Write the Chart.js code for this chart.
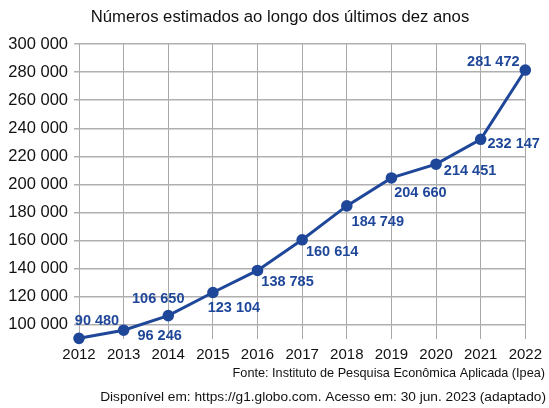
<!DOCTYPE html>
<html>
<head>
<meta charset="utf-8">
<script src="https://cdn.jsdelivr.net/npm/chart.js@4"></script>
<style>
  html, body { margin: 0; padding: 0; background: #fff; }
  #wrap { width: 549px; height: 408px; }
</style>
</head>
<body>
<div id="wrap"><canvas id="popChart"></canvas></div>
<script>
// anos e valores estimados
var anos = ["2012", "2013", "2014", "2015", "2016", "2017", "2018", "2019", "2020", "2021", "2022"];
var valores = [90480, 96246, 106650, 123104, 138785, 160614, 184749, 204660, 214451, 232147, 281472];
var yTicks = [100000, 120000, 140000, 160000, 180000, 200000, 220000, 240000, 260000, 280000, 300000];

var azul = "#1f4799";
var fonte = "'Liberation Sans', Arial, sans-serif";

function fmt(v) {
  return String(v).replace(/\B(?=(\d{3})+(?!\d))/g, " ");
}

// deslocamento dos rótulos em relação ao ponto (px)
var labelPos = [
  [18, -17], [36, 6], [-10, -17], [21, 16], [30, 12], [30, 12],
  [31, 16], [29, 15], [34, 7], [33, 5], [-32, -8]
];

var textPlugin = {
  id: "textos",
  afterDatasetsDraw: function(chart) {
    var ctx = chart.ctx;
    var meta = chart.getDatasetMeta(0);
    ctx.save();
    ctx.font = "bold 14.5px " + fonte;
    ctx.fillStyle = azul;
    ctx.textAlign = "center";
    ctx.textBaseline = "middle";
    meta.data.forEach(function(pt, i) {
      ctx.fillText(fmt(valores[i]), pt.x + labelPos[i][0], pt.y + labelPos[i][1]);
    });
    ctx.restore();
  },
  afterDraw: function(chart) {
    var ctx = chart.ctx;
    ctx.save();
    ctx.fillStyle = "#111";
    ctx.textBaseline = "middle";
    ctx.font = "16.7px " + fonte;
    ctx.textAlign = "center";
    ctx.fillText("Números estimados ao longo dos últimos dez anos", 280, 17);
    ctx.textAlign = "right";
    ctx.font = "12.7px " + fonte;
    ctx.fillText("Fonte: Instituto de Pesquisa Econômica Aplicada (Ipea)", 545, 373);
    ctx.font = "13.7px " + fonte;
    ctx.fillText("Disponível em: https://g1.globo.com. Acesso em: 30 jun. 2023 (adaptado)", 546, 397);
    ctx.restore();
  }
};

var ctx = document.getElementById("popChart");
var popChart = new Chart(ctx, {
  type: "line",
  data: {
    labels: anos,
    datasets: [{
      data: valores,
      borderColor: azul,
      backgroundColor: azul,
      borderWidth: 3,
      pointRadius: 4.3,
      pointHoverRadius: 4.3,
      tension: 0,
      clip: false
    }]
  },
  options: {
    responsive: true,
    maintainAspectRatio: false,
    animation: false,
    layout: { padding: { top: 44, right: 19, bottom: 39, left: 0 } },
    plugins: {
      legend: { display: false },
      tooltip: { enabled: false }
    },
    scales: {
      x: {
        offset: false,
        border: { display: false },
        grid: { color: "#a8a8a8", lineWidth: 1, tickLength: 0, borderDash: [5, 4], drawTicks: false },
        ticks: { color: "#111", padding: 7, font: { family: fonte, size: 15 }, maxRotation: 0 },
        afterFit: function(axis) { axis.height = 30; }
      },
      y: {
        min: 90000,
        max: 300000,
        border: { display: false },
        grid: { color: "#b0b0b0", lineWidth: 1.5, tickLength: 5 },
        ticks: {
          color: "#111",
          padding: 6,
          font: { family: fonte, size: 16.5 },
          callback: function(v) { return fmt(v); }
        },
        afterBuildTicks: function(axis) {
          axis.ticks = yTicks.map(function(v) { return { value: v }; });
        },
        afterFit: function(axis) { axis.width = 79; }
      }
    }
  },
  plugins: [textPlugin]
});
</script>
</body>
</html>
